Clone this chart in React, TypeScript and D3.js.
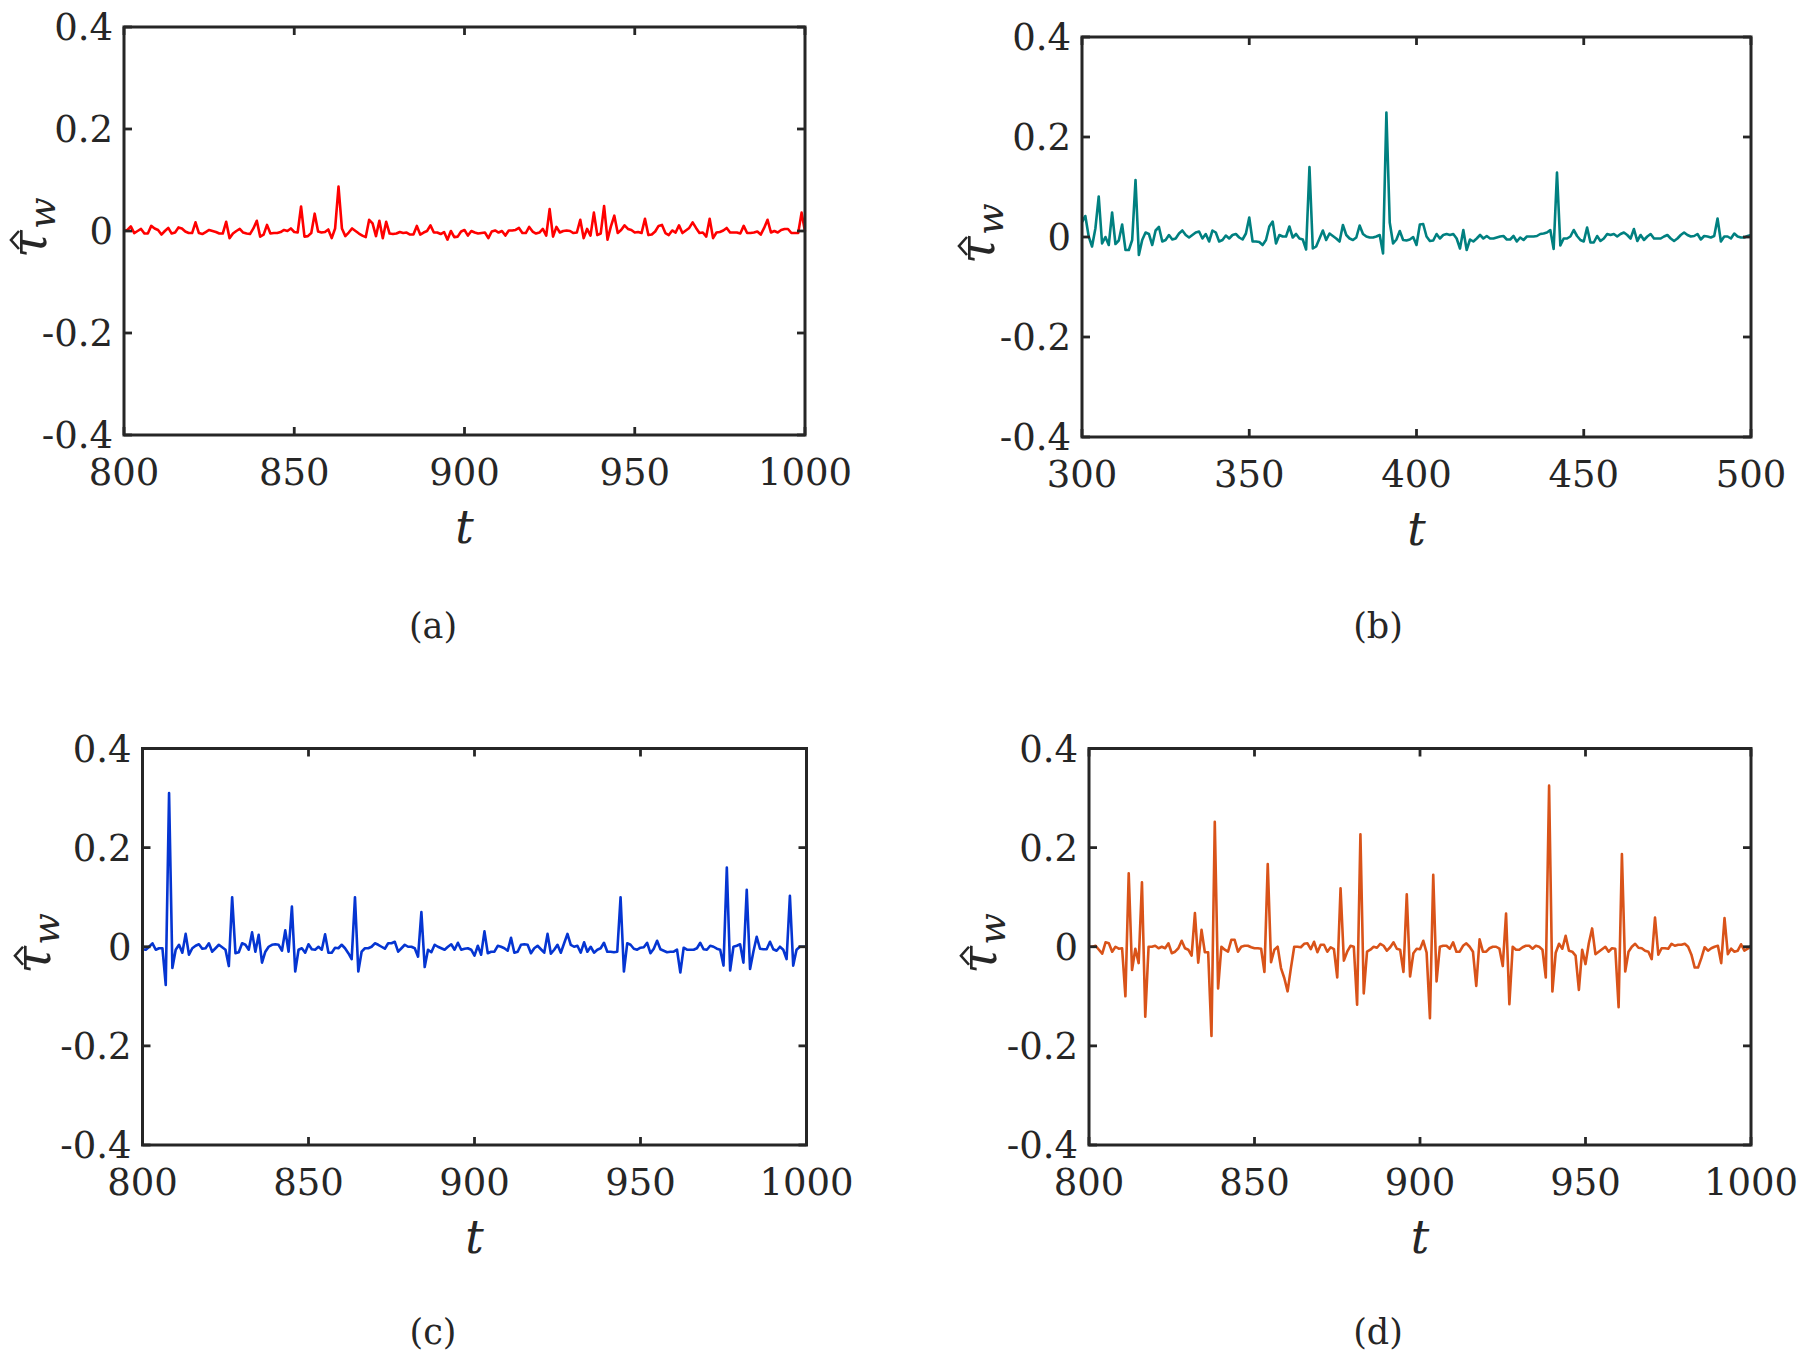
import React from "react";
import * as d3 from "d3";

// ---------- data ----------
const startA = 800;
const valsA = [
  0, 0.002, 0.009, -0.004, 0, 0.004, -0.005, -0.005, 0.010, 0.005,
  0.002, -0.007, 0, 0.006, -0.005, -0.003, 0.007, 0.005, -0.001, -0.004,
  -0.004, 0.017, -0.004, -0.006, -0.002, 0.002, 0, -0.002, -0.005, -0.005,
  0.018, -0.014, -0.005, 0, 0.004, -0.003, -0.005, -0.006, 0.005, 0.020,
  -0.011, -0.007, 0.012, -0.005, -0.004, -0.004, -0.002, 0.002, 0, 0.005,
  -0.002, -0.003, 0.048, -0.011, -0.010, -0.004, 0.034, -0.001, -0.003, -0.002,
  0.003, -0.014, 0.005, 0.087, 0.005, -0.010, -0.003, 0.005, 0, -0.005,
  -0.009, -0.012, 0.022, 0.015, -0.010, 0.020, -0.014, 0.018, -0.005, -0.006,
  -0.005, -0.002, -0.004, -0.003, -0.007, -0.007, 0.010, -0.007, -0.003, 0,
  0.011, -0.003, -0.003, -0.006, -0.002, -0.017, 0, -0.012, -0.011, -0.001,
  0.002, -0.009, 0, -0.003, -0.005, -0.004, -0.003, -0.014, -0.001, 0.001,
  -0.003, 0, -0.009, 0.001, 0.001, 0.002, 0.006, -0.004, -0.004, 0.008,
  -0.001, -0.005, -0.003, 0.004, -0.009, 0.043, -0.011, 0.008, -0.003, 0,
  0.001, 0, -0.004, -0.003, 0.022, -0.014, 0.004, -0.009, 0.036, -0.008,
  -0.005, 0.049, -0.017, 0.009, 0.030, -0.004, 0.002, 0.011, 0.004, 0.002,
  -0.003, -0.002, -0.004, 0.024, -0.008, -0.007, -0.001, 0.010, 0.012, -0.004,
  -0.008, 0.001, -0.003, 0.011, -0.004, 0.001, 0.006, 0.017, 0.006, -0.004,
  -0.003, -0.011, 0.024, -0.014, -0.003, -0.002, 0.001, 0.006, -0.003, -0.003,
  -0.003, -0.005, 0.010, -0.004, -0.004, -0.003, -0.001, -0.007, 0.006, 0.022,
  -0.003, 0, -0.003, 0.002, 0.004, 0.004, -0.004, -0.004, -0.004, 0.036,
  -0.001,
];

const startB = 300;
const valsB = [
  0.030, 0.042, 0.001, -0.019, 0.017, 0.081, -0.013, 0, -0.016, 0.049,
  -0.014, -0.007, 0.025, -0.026, -0.026, -0.006, 0.114, -0.036, -0.006, 0.009,
  0.006, -0.016, 0.013, 0.020, -0.009, -0.006, 0.004, -0.005, -0.003, 0.007,
  0.013, 0.004, -0.001, 0.004, 0.009, 0.011, -0.003, 0.006, -0.009, 0.013,
  0.009, -0.009, -0.006, 0.003, -0.003, 0.004, 0.006, -0.001, -0.005, 0.007,
  0.039, -0.009, -0.009, -0.010, -0.016, -0.006, 0.021, 0.031, -0.013, 0.004,
  0.001, 0.001, 0.021, -0.001, 0.006, -0.003, -0.005, -0.025, 0.140, -0.023,
  -0.019, -0.003, 0.013, -0.006, 0.007, 0.002, -0.003, -0.009, 0.024, 0.004,
  -0.003, -0.006, -0.001, 0.023, 0.006, 0.001, -0.001, -0.001, 0.001, 0.004,
  -0.033, 0.249, 0.029, -0.013, -0.005, 0.012, -0.006, -0.007, -0.005, 0,
  -0.016, 0.025, 0.026, 0.001, -0.008, -0.007, 0.006, -0.003, 0.004, 0.006,
  0.004, 0.006, -0.003, -0.023, 0.014, -0.026, -0.005, -0.009, -0.003, 0.004,
  -0.003, 0.002, -0.003, -0.003, -0.001, 0.001, 0.002, -0.005, -0.005, 0.002,
  -0.009, -0.001, -0.006, 0.001, 0.001, 0.001, 0.002, 0.006, 0.007, 0.009,
  0.014, -0.024, 0.129, -0.017, -0.003, -0.003, 0.001, 0.014, 0.002, -0.006,
  -0.009, 0.019, -0.011, -0.011, 0.002, -0.008, -0.003, 0.006, 0.004, 0.006,
  0.001, 0.006, 0.009, 0.004, -0.003, 0.016, -0.008, 0.004, -0.006, 0.001,
  0.006, -0.003, -0.003, -0.003, 0.001, 0.004, -0.003, -0.008, -0.003, 0.004,
  0.009, 0.004, 0.001, 0.002, 0.006, -0.005, 0.002, 0.001, -0.001, 0.002,
  0.037, -0.009, 0.001, 0.001, -0.003, 0.007, 0.001, -0.001, -0.001, 0.002,
  0.004,
];

const startC = 800;
const valsC = [
  -0.005, -0.006, 0, 0.007, -0.006, -0.003, -0.003, -0.077, 0.310, -0.043,
  -0.006, 0.004, -0.012, 0.026, -0.016, -0.003, 0.002, 0.005, -0.004, -0.003,
  0.007, -0.010, -0.003, 0.004, -0.001, -0.006, -0.039, 0.100, -0.013, -0.011,
  0.007, 0.004, -0.006, 0.029, -0.010, 0.024, -0.032, -0.010, 0, 0.004,
  0.005, 0.004, -0.008, 0.033, -0.010, 0.081, -0.050, -0.006, -0.003, -0.012,
  0.005, -0.005, -0.006, 0, -0.006, 0.025, -0.012, -0.012, -0.002, -0.003,
  0.004, -0.003, -0.013, -0.025, 0.100, -0.050, -0.010, -0.003, -0.003, 0,
  0.007, 0.004, 0, -0.004, 0.007, 0.007, 0.010, -0.010, -0.003, 0.004,
  0, 0, -0.003, -0.020, 0.070, -0.041, -0.006, -0.011, 0.004, 0,
  -0.003, -0.006, 0, 0.005, -0.006, 0.008, -0.006, -0.004, -0.003, -0.006,
  -0.018, 0.002, -0.016, 0.031, -0.013, -0.010, -0.010, 0.002, 0, -0.003,
  -0.008, 0.018, -0.012, -0.010, 0.004, 0.005, 0.004, -0.013, -0.003, 0.002,
  -0.005, -0.012, 0.026, -0.014, -0.006, 0.004, -0.012, 0.007, 0.026, 0.004,
  0, 0.002, -0.012, 0.009, -0.010, 0, -0.012, -0.006, -0.003, 0.008,
  -0.010, -0.010, -0.011, -0.010, 0.100, -0.050, 0.007, 0.004, -0.004, -0.006,
  -0.002, -0.001, 0.008, -0.013, -0.004, 0.012, -0.005, -0.008, -0.011, -0.010,
  -0.010, -0.006, -0.052, -0.002, -0.006, -0.006, -0.006, -0.003, 0.008, -0.005,
  -0.006, 0.002, 0, -0.004, -0.006, -0.038, 0.160, -0.048, 0, 0.002,
  0.005, -0.032, 0.115, -0.045, -0.010, 0.020, -0.004, -0.005, -0.005, 0.010,
  -0.005, -0.008, 0, -0.006, -0.025, 0.103, -0.038, -0.006, 0, 0,
  0,
];

const startD = 800;
const valsD = [
  0, 0, 0.002, -0.006, -0.014, 0.009, 0.007, -0.010, 0, -0.004,
  -0.003, -0.100, 0.148, -0.047, -0.004, -0.033, 0.130, -0.141, 0, 0,
  0.002, -0.003, 0, -0.003, 0.007, -0.013, -0.010, -0.003, 0.012, -0.003,
  -0.006, -0.018, 0.068, -0.032, 0.034, -0.011, -0.011, -0.180, 0.252, -0.084,
  0, -0.006, -0.010, 0.014, 0.014, -0.010, 0, 0.002, 0.002, -0.001,
  -0.003, -0.003, -0.004, -0.051, 0.167, -0.031, -0.006, 0, -0.043, -0.063,
  -0.090, -0.043, 0, 0, -0.001, 0.006, 0.007, -0.005, 0.010, -0.011,
  0.004, 0.004, -0.010, -0.001, -0.005, -0.062, 0.118, -0.028, -0.010, 0.002,
  0, -0.117, 0.227, -0.094, -0.010, -0.006, 0, -0.002, 0.006, 0.002,
  -0.008, -0.001, 0.009, -0.004, -0.006, -0.051, 0.106, -0.060, -0.013, -0.004,
  -0.005, 0.012, -0.012, -0.144, 0.145, -0.070, 0, 0.002, 0.002, -0.004,
  0.009, -0.010, -0.010, 0.002, 0.007, 0, -0.010, -0.079, 0.015, -0.010,
  -0.010, -0.003, 0, 0, -0.004, -0.039, 0.067, -0.116, 0, -0.006,
  -0.006, -0.001, 0.002, 0.002, -0.004, 0.002, 0, -0.006, -0.062, 0.325,
  -0.090, -0.012, 0.006, -0.004, 0.022, -0.008, -0.010, -0.018, -0.087, -0.006,
  -0.035, 0.007, 0.037, -0.015, -0.010, -0.005, 0, -0.010, -0.003, -0.004,
  -0.122, 0.187, -0.050, -0.010, 0, 0.006, -0.002, -0.003, -0.008, -0.010,
  -0.025, 0.059, -0.016, -0.003, -0.003, -0.004, 0.006, 0.002, 0.004, 0.004,
  0.006, 0, -0.016, -0.042, -0.042, -0.023, -0.001, -0.008, -0.003, 0,
  0.002, -0.033, 0.058, -0.015, -0.004, -0.010, -0.008, 0.005, -0.008, -0.004,
  0.002,
];

const xTicksACD = [800, 850, 900, 950, 1000];
const xTicksB = [300, 350, 400, 450, 500];
const yTicks = [-0.4, -0.2, 0, 0.2, 0.4];
const yTickLabels = ["-0.4", "-0.2", "0", "0.2", "0.4"];
const captions = ["(a)", "(b)", "(c)", "(d)"];

// ---------- layout / style ----------
const AXIS_COLOR = "#262626";
const FONT = "DejaVu Serif";
const TICK_FS = 37;
const TICK_LEN = 8;

const panels = [
  { start: startA, vals: valsA, xTicks: xTicksACD, color: "#ff0000", box: [124, 805, 27, 435], ylab: 36, cap: [433, 638] },
  { start: startB, vals: valsB, xTicks: xTicksB, color: "#008080", box: [1082, 1751, 37, 437], ylab: 984, cap: [1378, 638] },
  { start: startC, vals: valsC, xTicks: xTicksACD, color: "#0535d2", box: [142.5, 806.5, 748.5, 1145], ylab: 40, cap: [433, 1344] },
  { start: startD, vals: valsD, xTicks: xTicksACD, color: "#d95319", box: [1089, 1751, 748.5, 1145], ylab: 986, cap: [1378, 1344] },
];

function Panel({ p, caption }: { p: any; caption: string }) {
  const [x0, x1, y0, y1] = p.box;
  const xDomain = [p.xTicks[0], p.xTicks[p.xTicks.length - 1]];
  const xs = d3.scaleLinear().domain(xDomain).range([x0, x1]);
  const ys = d3.scaleLinear().domain([-0.4, 0.4]).range([y1, y0]);
  const line = d3
    .line<number>()
    .x((_, i) => xs(p.start + i))
    .y((d) => ys(d));
  const cy = ys(0);
  const cx = (x0 + x1) / 2;
  return (
    <g>
      <path d={line(p.vals) || ""} fill="none" stroke={p.color} strokeWidth={2.6} strokeLinejoin="round" />
      <rect x={x0} y={y0} width={x1 - x0} height={y1 - y0} fill="none" stroke={AXIS_COLOR} strokeWidth={3} />
      {p.xTicks.map((t: number) => (
        <g key={"x" + t}>
          <line x1={xs(t)} x2={xs(t)} y1={y1} y2={y1 - TICK_LEN} stroke={AXIS_COLOR} strokeWidth={2.8} />
          <line x1={xs(t)} x2={xs(t)} y1={y0} y2={y0 + TICK_LEN} stroke={AXIS_COLOR} strokeWidth={2.8} />
          <text x={xs(t)} y={y1 + 50} textAnchor="middle" fontFamily={FONT} fontSize={TICK_FS} fill={AXIS_COLOR}>
            {String(t)}
          </text>
        </g>
      ))}
      {yTicks.map((v, i) => (
        <g key={"y" + i}>
          <line x1={x0} x2={x0 + TICK_LEN} y1={ys(v)} y2={ys(v)} stroke={AXIS_COLOR} strokeWidth={2.8} />
          <line x1={x1} x2={x1 - TICK_LEN} y1={ys(v)} y2={ys(v)} stroke={AXIS_COLOR} strokeWidth={2.8} />
          <text x={x0 - 11} y={ys(v) + TICK_FS * 0.36} textAnchor="end" fontFamily={FONT} fontSize={TICK_FS} fill={AXIS_COLOR}>
            {yTickLabels[i]}
          </text>
        </g>
      ))}
      <text x={cx} y={y1 + 108} textAnchor="middle" fontFamily={FONT} fontStyle="italic" fontSize={46} fill={AXIS_COLOR}>
        t
      </text>
      <g transform={`translate(${p.ylab},${cy}) rotate(-90)`}>
        <text x={-27} y={10} fontFamily={FONT} fontStyle="italic" fontSize={50} fill={AXIS_COLOR}>
          τ
        </text>
        <path d="M -18 -17 L -9 -25 L 0 -17" fill="none" stroke={AXIS_COLOR} strokeWidth={2.6} strokeLinejoin="miter" />
        <text x={2} y={19} fontFamily={FONT} fontStyle="italic" fontSize={37} fill={AXIS_COLOR}>
          w
        </text>
      </g>
      <text x={p.cap[0]} y={p.cap[1]} textAnchor="middle" fontFamily={FONT} fontSize={35} fill={AXIS_COLOR}>
        {caption}
      </text>
    </g>
  );
}

export default function App() {
  return (
    <div style={{ position: "absolute", left: 0, top: 0, width: 1800, height: 1358, background: "#fff" }}>
      <svg width={1800} height={1358} viewBox="0 0 1800 1358" style={{ display: "block" }}>
        <rect x={0} y={0} width={1800} height={1358} fill="#fff" />
        {panels.map((p, i) => (
          <Panel key={i} p={p} caption={captions[i]} />
        ))}
      </svg>
    </div>
  );
}
